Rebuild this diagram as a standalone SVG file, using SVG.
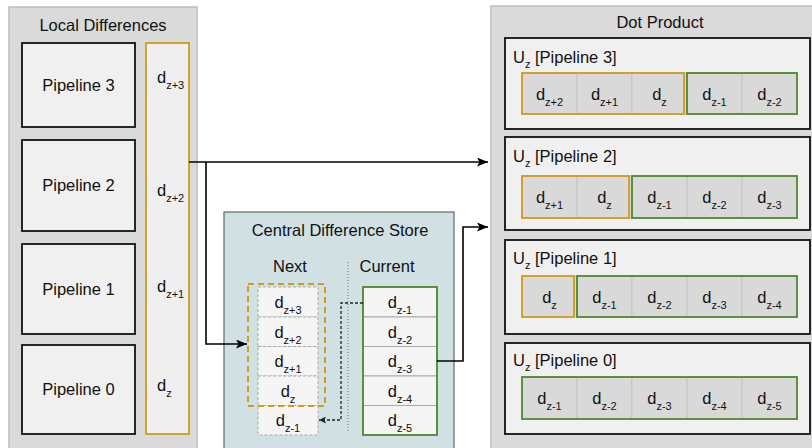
<svg xmlns="http://www.w3.org/2000/svg" width="812" height="448" viewBox="0 0 812 448">
  <defs>
    <style>
      text { font-family: "Liberation Sans", Arial, sans-serif; fill: #111; font-size: 16.5px; }
      .c { text-anchor: middle; }
      .s { font-size: 11px; }
      .panel { fill: #dadada; stroke: #bdbdbd; stroke-width: 1.5; }
      .pipe { fill: #f0f0f0; stroke: #111; stroke-width: 1.8; }
      .gold { fill: none; stroke: #d09c1c; stroke-width: 1.8; }
      .green { fill: none; stroke: #4f8a2f; stroke-width: 1.8; }
      .cell { fill: #d9d9d9; stroke: #c4c4c4; stroke-width: 1; }
      .slot { fill: #f5f5f5; stroke: #aaaaaa; stroke-width: 1; stroke-dasharray: 3 2; }
      .reg { fill: #f5f5f5; stroke: #aaaaaa; stroke-width: 1; }
      .wire { fill: none; stroke: #000; stroke-width: 1.6; }
      .dash { fill: none; stroke: #222; stroke-width: 1.3; stroke-dasharray: 3 2; }
    </style>
    <marker id="arrow" markerUnits="userSpaceOnUse" markerWidth="12" markerHeight="9" refX="11" refY="4.5" orient="auto">
      <path d="M0,0 L11,4.5 L0,9 L2.5,4.5 z" fill="#000"/>
    </marker>
    <marker id="arrowSmall" markerUnits="userSpaceOnUse" markerWidth="8" markerHeight="7" refX="7" refY="3.5" orient="auto">
      <path d="M0,0 L7,3.5 L0,7 L1.5,3.5 z" fill="#222"/>
    </marker>
  </defs>

  <!-- Local differences panel -->
  <g id="local-differences">
    <rect class="panel" x="9" y="7" width="188" height="460"/>
    <text class="c" x="103" y="31">Local Differences</text>
  </g>
  <g id="pipeline-3">
    <rect class="pipe" x="22" y="43" width="113" height="84"/>
    <text class="c" x="78.5" y="91">Pipeline 3</text>
  </g>
  <g id="pipeline-2">
    <rect class="pipe" x="22" y="140" width="113" height="91"/>
    <text class="c" x="78.5" y="191">Pipeline 2</text>
  </g>
  <g id="pipeline-1">
    <rect class="pipe" x="22" y="244" width="113" height="90"/>
    <text class="c" x="78.5" y="295">Pipeline 1</text>
  </g>
  <g id="pipeline-0">
    <rect class="pipe" x="22" y="345" width="113" height="89"/>
    <text class="c" x="78.5" y="395">Pipeline 0</text>
  </g>
  <g id="local-values">
    <rect x="146" y="43" width="43" height="391" fill="#efefef" stroke="#d09c1c" stroke-width="1.8"/>
    <text x="157" y="83">d<tspan class="s" dy="6">z+3</tspan></text>
    <text x="157" y="196">d<tspan class="s" dy="6">z+2</tspan></text>
    <text x="157" y="292">d<tspan class="s" dy="6">z+1</tspan></text>
    <text x="157" y="391">d<tspan class="s" dy="6">z</tspan></text>
  </g>

  <!-- Central difference store -->
  <g id="central-store">
    <rect x="224" y="212" width="230" height="260" fill="#d0e0e3" stroke="#666" stroke-width="1.2"/>
    <text class="c" x="340" y="236">Central Difference Store</text>
    <text class="c" x="290" y="272">Next</text>
    <text class="c" x="387" y="272">Current</text>
    <line x1="348" y1="262" x2="348" y2="432" stroke="#777" stroke-width="1" stroke-dasharray="1 2"/>
  </g>
  <g id="next-column">
    <rect class="slot" x="258" y="287" width="60" height="30"/>
    <rect class="slot" x="258" y="317" width="60" height="29.5"/>
    <rect class="slot" x="258" y="346.5" width="60" height="29.5"/>
    <rect class="slot" x="258" y="376" width="60" height="29.5"/>
    <rect class="slot" x="258" y="405.5" width="60" height="29.5"/>
    <rect x="248" y="284" width="77" height="122" fill="none" stroke="#d09c1c" stroke-width="2" stroke-dasharray="6 4"/>
    <text class="c" x="288" y="308">d<tspan class="s" dy="6">z+3</tspan></text>
    <text class="c" x="288" y="337.5">d<tspan class="s" dy="6">z+2</tspan></text>
    <text class="c" x="288" y="367">d<tspan class="s" dy="6">z+1</tspan></text>
    <text class="c" x="288" y="396.5">d<tspan class="s" dy="6">z</tspan></text>
    <text class="c" x="288" y="426">d<tspan class="s" dy="6">z-1</tspan></text>
  </g>
  <g id="current-column">
    <rect class="reg" x="363" y="287" width="74" height="30"/>
    <rect class="reg" x="363" y="317" width="74" height="29.5"/>
    <rect class="reg" x="363" y="346.5" width="74" height="29.5"/>
    <rect class="reg" x="363" y="376" width="74" height="29.5"/>
    <rect class="reg" x="363" y="405.5" width="74" height="29.5"/>
    <rect class="green" x="363" y="287" width="74" height="148"/>
    <text class="c" x="400" y="308">d<tspan class="s" dy="6">z-1</tspan></text>
    <text class="c" x="400" y="337.5">d<tspan class="s" dy="6">z-2</tspan></text>
    <text class="c" x="400" y="367">d<tspan class="s" dy="6">z-3</tspan></text>
    <text class="c" x="400" y="396.5">d<tspan class="s" dy="6">z-4</tspan></text>
    <text class="c" x="400" y="426">d<tspan class="s" dy="6">z-5</tspan></text>
  </g>

  <!-- Dot product panel -->
  <g id="dot-product">
    <rect class="panel" x="491" y="6" width="340" height="460"/>
    <text class="c" x="660" y="28">Dot Product</text>
  </g>
  <g id="uz-pipeline-3">
    <rect class="pipe" x="505" y="38" width="305" height="91"/>
    <text x="513" y="63">U<tspan class="s" dy="5">z</tspan><tspan dy="-5"> [Pipeline 3]</tspan></text>
    <rect class="cell" x="522" y="73" width="55" height="41"/>
    <rect class="cell" x="577" y="73" width="55" height="41"/>
    <rect class="cell" x="632" y="73" width="55" height="41"/>
    <rect class="cell" x="687" y="73" width="55" height="41"/>
    <rect class="cell" x="742" y="73" width="55" height="41"/>
    <rect class="gold" x="522" y="73" width="162" height="41"/>
    <rect class="green" x="687" y="73" width="110" height="41"/>
    <text class="c" x="549.5" y="100">d<tspan class="s" dy="6">z+2</tspan></text>
    <text class="c" x="604.5" y="100">d<tspan class="s" dy="6">z+1</tspan></text>
    <text class="c" x="659.5" y="100">d<tspan class="s" dy="6">z</tspan></text>
    <text class="c" x="714.5" y="100">d<tspan class="s" dy="6">z-1</tspan></text>
    <text class="c" x="769.5" y="100">d<tspan class="s" dy="6">z-2</tspan></text>
  </g>
  <g id="uz-pipeline-2">
    <rect class="pipe" x="505" y="137" width="305" height="93"/>
    <text x="513" y="162">U<tspan class="s" dy="5">z</tspan><tspan dy="-5"> [Pipeline 2]</tspan></text>
    <rect class="cell" x="522" y="176" width="55" height="42"/>
    <rect class="cell" x="577" y="176" width="55" height="42"/>
    <rect class="cell" x="632" y="176" width="55" height="42"/>
    <rect class="cell" x="687" y="176" width="55" height="42"/>
    <rect class="cell" x="742" y="176" width="55" height="42"/>
    <rect class="gold" x="522" y="176" width="107" height="42"/>
    <rect class="green" x="632" y="176" width="165" height="42"/>
    <text class="c" x="549.5" y="203">d<tspan class="s" dy="6">z+1</tspan></text>
    <text class="c" x="604.5" y="203">d<tspan class="s" dy="6">z</tspan></text>
    <text class="c" x="659.5" y="203">d<tspan class="s" dy="6">z-1</tspan></text>
    <text class="c" x="714.5" y="203">d<tspan class="s" dy="6">z-2</tspan></text>
    <text class="c" x="769.5" y="203">d<tspan class="s" dy="6">z-3</tspan></text>
  </g>
  <g id="uz-pipeline-1">
    <rect class="pipe" x="505" y="240" width="305" height="94"/>
    <text x="513" y="264">U<tspan class="s" dy="5">z</tspan><tspan dy="-5"> [Pipeline 1]</tspan></text>
    <rect class="cell" x="522" y="276" width="55" height="41"/>
    <rect class="cell" x="577" y="276" width="55" height="41"/>
    <rect class="cell" x="632" y="276" width="55" height="41"/>
    <rect class="cell" x="687" y="276" width="55" height="41"/>
    <rect class="cell" x="742" y="276" width="55" height="41"/>
    <rect class="gold" x="522" y="276" width="52" height="41"/>
    <rect class="green" x="577" y="276" width="220" height="41"/>
    <text class="c" x="549.5" y="303">d<tspan class="s" dy="6">z</tspan></text>
    <text class="c" x="604.5" y="303">d<tspan class="s" dy="6">z-1</tspan></text>
    <text class="c" x="659.5" y="303">d<tspan class="s" dy="6">z-2</tspan></text>
    <text class="c" x="714.5" y="303">d<tspan class="s" dy="6">z-3</tspan></text>
    <text class="c" x="769.5" y="303">d<tspan class="s" dy="6">z-4</tspan></text>
  </g>
  <g id="uz-pipeline-0">
    <rect class="pipe" x="505" y="343" width="305" height="91"/>
    <text x="513" y="366">U<tspan class="s" dy="5">z</tspan><tspan dy="-5"> [Pipeline 0]</tspan></text>
    <rect class="cell" x="522" y="377" width="55" height="42"/>
    <rect class="cell" x="577" y="377" width="55" height="42"/>
    <rect class="cell" x="632" y="377" width="55" height="42"/>
    <rect class="cell" x="687" y="377" width="55" height="42"/>
    <rect class="cell" x="742" y="377" width="55" height="42"/>
    <rect class="green" x="522" y="377" width="275" height="42"/>
    <text class="c" x="549.5" y="404">d<tspan class="s" dy="6">z-1</tspan></text>
    <text class="c" x="604.5" y="404">d<tspan class="s" dy="6">z-2</tspan></text>
    <text class="c" x="659.5" y="404">d<tspan class="s" dy="6">z-3</tspan></text>
    <text class="c" x="714.5" y="404">d<tspan class="s" dy="6">z-4</tspan></text>
    <text class="c" x="769.5" y="404">d<tspan class="s" dy="6">z-5</tspan></text>
  </g>

  <!-- Connectors -->
  <g id="connectors">
    <path class="wire" d="M189,162 H488" marker-end="url(#arrow)"/>
    <path class="wire" d="M206,162 V344 H247" marker-end="url(#arrow)"/>
    <path class="wire" d="M437,361 H463 V227 H488" marker-end="url(#arrow)"/>
    <path class="dash" d="M363,303 H341 V420 H319" marker-end="url(#arrowSmall)"/>
  </g>
</svg>
